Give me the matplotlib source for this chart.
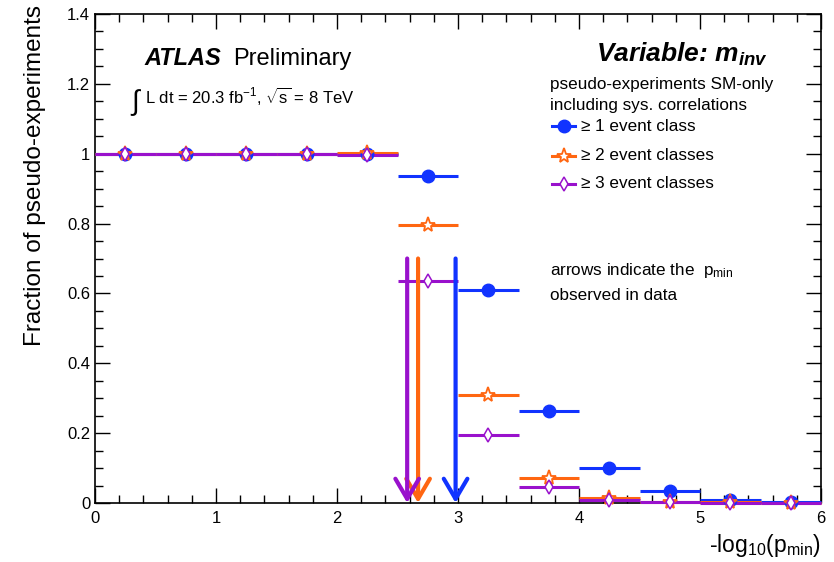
import matplotlib
matplotlib.use("Agg")
import matplotlib.pyplot as plt
from matplotlib.ticker import MultipleLocator
import numpy as np

plt.rcParams['font.family'] = ['Liberation Sans', 'DejaVu Sans']
plt.rcParams['mathtext.fontset'] = 'custom'
plt.rcParams['mathtext.rm'] = 'Liberation Sans'
plt.rcParams['mathtext.it'] = 'Liberation Sans:italic'
plt.rcParams['mathtext.bf'] = 'Liberation Sans:bold:italic'

bin_centers = [0.25, 0.75, 1.25, 1.75, 2.25, 2.75, 3.25, 3.75, 4.25, 4.75, 5.25, 5.75]
bin_halfwidth = 0.25
frac_ge1 = [1.0, 1.0, 1.0, 1.0, 1.0, 0.937, 0.609, 0.263, 0.100, 0.034, 0.009, 0.003]
frac_ge2 = [1.0, 1.0, 1.0, 1.0, 1.003, 0.797, 0.309, 0.073, 0.015, 0.004, 0.002, 0.001]
frac_ge3 = [1.0, 1.0, 1.0, 1.0, 0.997, 0.637, 0.196, 0.045, 0.008, 0.002, 0.001, 0.0]
series_labels = ["\u2265 1 event class", "\u2265 2 event classes", "\u2265 3 event classes"]
observed_pmin = [2.98, 2.67, 2.58]   # blue, orange, purple
arrow_top = 0.70

blue = '#1133ff'
orange = '#ff6611'
purple = '#9911cc'
colors = [blue, orange, purple]

fig = plt.figure(figsize=(8.34, 5.62), dpi=100)
ax = fig.add_axes([95/834, 1-503/562, (821-95)/834, (503-14)/562])

styles = [dict(marker='o', ms=9, mfc=blue, mec=blue, mew=1),
          dict(marker='*', ms=11, mfc='white', mec=orange, mew=1.3),
          dict(marker='d', ms=7.5, mfc='white', mec=purple, mew=1.1)]
for vals, c, st in zip([frac_ge1, frac_ge2, frac_ge3], colors, styles):
    ax.errorbar(bin_centers, vals, xerr=bin_halfwidth, fmt='none', ecolor=c,
                elinewidth=2.2, capsize=0, clip_on=False, zorder=3)
    ax.plot(bin_centers, vals, linestyle='none', color=c, clip_on=False, zorder=4, **st)

# arrows
for xv, c in zip(observed_pmin, colors):
    ax.annotate('', xy=(xv, 0.0), xytext=(xv, arrow_top),
                arrowprops=dict(arrowstyle='->,head_length=1.45,head_width=0.85',
                                color=c, lw=3, shrinkA=0, shrinkB=0),
                annotation_clip=False, zorder=5)

ax.set_xlim(0, 6)
ax.set_ylim(0, 1.4)
ax.xaxis.set_major_locator(MultipleLocator(1))
ax.xaxis.set_minor_locator(MultipleLocator(0.2))
ax.yaxis.set_minor_locator(MultipleLocator(0.05))
ax.set_yticks([0, 0.2, 0.4, 0.6, 0.8, 1.0, 1.2, 1.4])
ax.set_yticklabels(['0', '0.2', '0.4', '0.6', '0.8', '1', '1.2', '1.4'])
ax.tick_params(which='both', direction='in', top=True, right=True, labelsize=12, width=1)
ax.tick_params(which='major', length=11)
ax.tick_params(which='minor', length=5.5)
ax.tick_params(axis='x', pad=6)
for s in ax.spines.values():
    s.set_linewidth(1.2)

ax.set_ylabel('Fraction of pseudo-experiments', fontsize=17.5, ha='right')
ax.yaxis.set_label_coords(-0.068, 1 + 9/489)
ax.set_xlabel(r'-log$_{10}$(p$_{\rm min}$)', fontsize=16.5, loc='right', labelpad=4)

# texts
ax.text(0.41, 1.253, 'ATLAS', fontsize=17, fontweight='bold', style='italic', va='baseline')
ax.text(1.14, 1.253, 'Preliminary', fontsize=17, va='baseline')
ax.text(0.30, 1.125, '\u222b', fontsize=20, va='baseline')
ax.text(0.41, 1.145, r'L dt = 20.3 fb$^{-1}$, $\sqrt{\rm s}$ = 8 TeV', fontsize=12, va='baseline')
ax.text(4.14, 1.262, r'Variable: m$_{\mathbf{inv}}$', fontsize=19, fontweight='bold', style='italic', va='baseline')
ax.text(3.76, 1.185, 'pseudo-experiments SM-only', fontsize=12.3, va='baseline')
ax.text(3.76, 1.125, 'including sys. correlations', fontsize=12.3, va='baseline')

leg_y = [1.066, 0.982, 0.902]
for yv, c, st, lab in zip(leg_y, colors, styles, series_labels):
    ax.plot([3.78, 3.97], [yv + 0.012, yv + 0.012], color=c, lw=2.2, clip_on=False)
    ax.plot([3.875], [yv + 0.012], linestyle='none', color=c, **st)
    ax.text(4.02, yv, lab, fontsize=12.3, va='baseline')

ax.text(3.76, 0.653, 'arrows indicate the  p$_{\\rm min}$', fontsize=12.3, va='baseline')
ax.text(3.76, 0.580, 'observed in data', fontsize=12.3, va='baseline')

fig.savefig('out.png', dpi=100)
